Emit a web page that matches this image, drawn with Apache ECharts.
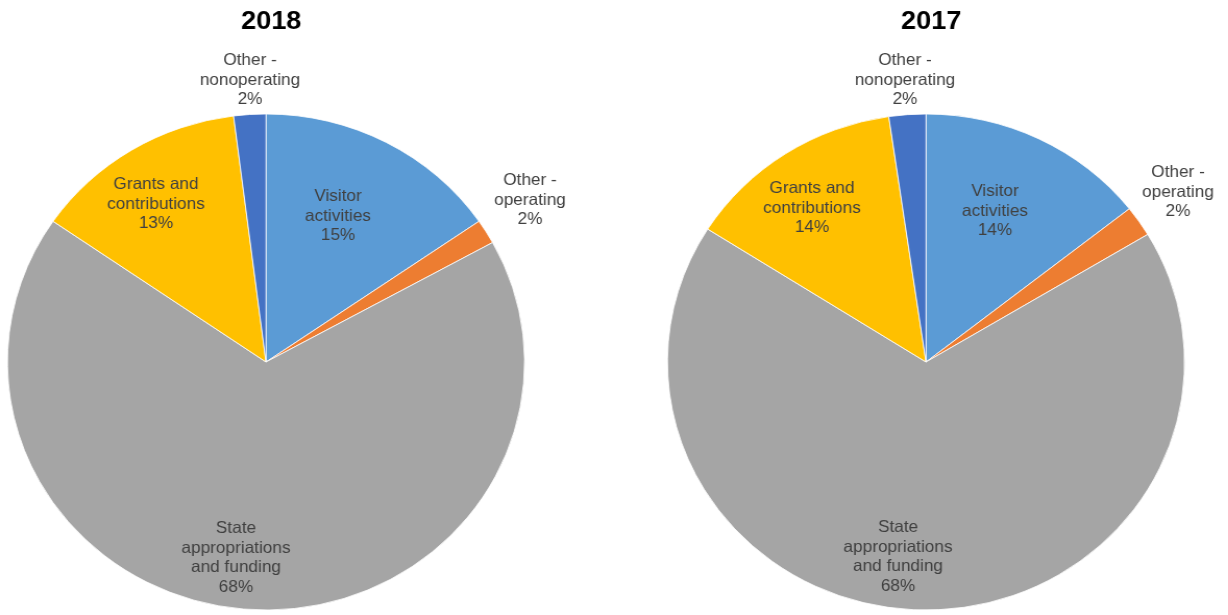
<!DOCTYPE html>
<html>
<head>
<meta charset="utf-8">
<script src="https://cdn.jsdelivr.net/npm/echarts@6/dist/echarts.min.js"></script>
<style>
html,body{margin:0;padding:0;background:#fff;overflow:hidden;}
/* the reference picture is slightly stretched horizontally */
#chart{width:1178px;height:615px;transform:scaleX(1.0425);transform-origin:0 0;}
</style>
</head>
<body>
<div id="chart"></div>
<script>
// ---- data ----
var categories = ['Visitor activities', 'Other - operating', 'State appropriations and funding', 'Grants and contributions', 'Other - nonoperating'];
var wrappedLabels = ['Visitor\nactivities', 'Other -\noperating', 'State\nappropriations\nand funding', 'Grants and\ncontributions', 'Other -\nnonoperating'];
var years = ['2018', '2017'];
var values2018 = [15.4, 1.6, 67.6, 13.4, 2.0];
var values2017 = [14.4, 2.0, 67.6, 13.7, 2.3];

// ---- styling / layout (chart-space, before horizontal stretch) ----
var sx = 1.0425;
var colors = ['#5B9BD5', '#ED7D31', '#A5A5A5', '#FFC000', '#4472C4'];
var centers = [[266 / sx, 362], [926 / sx, 362]];
var radius = 248;
// label offsets (screen px) relative to each pie centre
var labelOffsets = [
  [[72, -146], [264, -162], [-30, 196], [-110, -158], [-16, -282]],
  [[69, -151], [252, -170], [-28, 195], [-114, -154], [-21, -282]]
];

function buildData(vals) {
  return categories.map(function (c, i) {
    return { name: c, value: vals[i], itemStyle: { color: colors[i] } };
  });
}

var labelStyle = {
  show: true,
  position: 'inside',
  color: '#404040',
  fontFamily: 'Liberation Sans, Arial, sans-serif',
  fontSize: 16.5,
  lineHeight: 19.5,
  align: 'center',
  formatter: function (p) {
    return wrappedLabels[p.dataIndex] + '\n' + Math.round(p.percent) + '%';
  }
};

var seriesList = [values2018, values2017].map(function (vals, si) {
  return {
    type: 'pie',
    center: centers[si],
    radius: radius,
    startAngle: 90,
    clockwise: true,
    avoidLabelOverlap: false,
    silent: true,
    animation: false,
    itemStyle: { borderColor: '#ffffff', borderWidth: 0.8 },
    label: labelStyle,
    labelLine: { show: false },
    labelLayout: function (params) {
      var off = labelOffsets[si][params.dataIndex];
      return {
        x: centers[si][0] + off[0] / sx,
        y: centers[si][1] + off[1],
        align: 'center',
        verticalAlign: 'middle'
      };
    },
    data: buildData(vals)
  };
});

var chart = echarts.init(document.getElementById('chart'), null, { renderer: 'canvas' });
chart.setOption({
  backgroundColor: '#ffffff',
  animation: false,
  title: years.map(function (y, i) {
    return {
      text: y,
      left: centers[i][0],
      top: 4,
      textAlign: 'center',
      textStyle: { fontFamily: 'Liberation Sans, Arial, sans-serif', fontSize: 26, fontWeight: 'bold', color: '#000' }
    };
  }),
  series: seriesList
});
</script>
</body>
</html>
